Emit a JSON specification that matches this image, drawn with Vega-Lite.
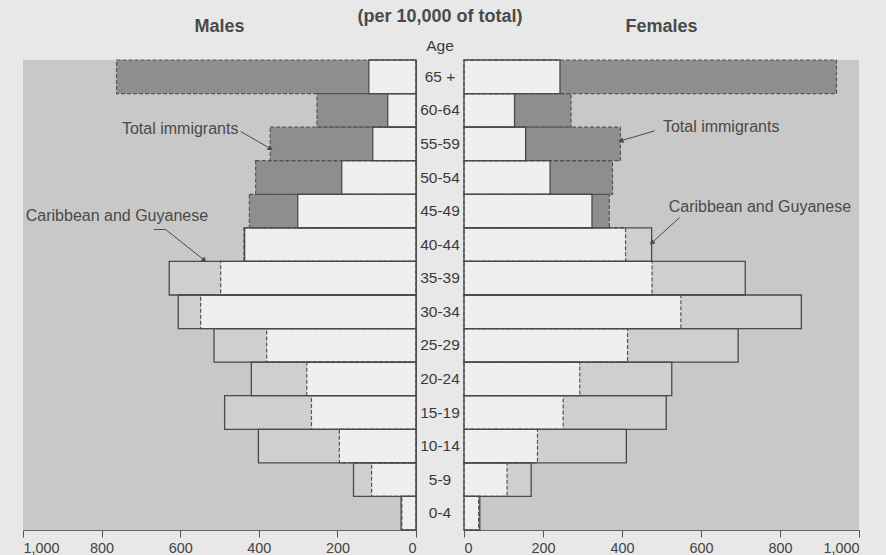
{
  "$schema": "https://vega.github.io/schema/vega-lite/v6.json",
  "background": "#e8e8e8",
  "padding": {"left": 22, "top": 7, "right": 28, "bottom": 25},
  "bounds": "flush",
  "spacing": 0,
  "config": {
    "font": "Liberation Sans",
    "view": {"stroke": null},
    "axis": {"labelFont": "Liberation Sans", "labelFontSize": 14.4, "labelColor": "#444444", "domainColor": "#555555", "tickColor": "#555555", "grid": false, "title": null}
  },
  "datasets": {
    "pyramid": [
      {"sex": "Males", "age": "65 +", "group": "Total immigrants", "value": 762},
      {"sex": "Males", "age": "60-64", "group": "Total immigrants", "value": 252},
      {"sex": "Males", "age": "55-59", "group": "Total immigrants", "value": 371},
      {"sex": "Males", "age": "50-54", "group": "Total immigrants", "value": 408},
      {"sex": "Males", "age": "45-49", "group": "Total immigrants", "value": 424},
      {"sex": "Males", "age": "40-44", "group": "Total immigrants", "value": 438},
      {"sex": "Males", "age": "35-39", "group": "Total immigrants", "value": 497},
      {"sex": "Males", "age": "30-34", "group": "Total immigrants", "value": 548},
      {"sex": "Males", "age": "25-29", "group": "Total immigrants", "value": 380},
      {"sex": "Males", "age": "20-24", "group": "Total immigrants", "value": 278},
      {"sex": "Males", "age": "15-19", "group": "Total immigrants", "value": 266},
      {"sex": "Males", "age": "10-14", "group": "Total immigrants", "value": 195},
      {"sex": "Males", "age": "5-9", "group": "Total immigrants", "value": 113},
      {"sex": "Males", "age": "0-4", "group": "Total immigrants", "value": 36},
      {"sex": "Males", "age": "65 +", "group": "Caribbean and Guyanese", "value": 120},
      {"sex": "Males", "age": "60-64", "group": "Caribbean and Guyanese", "value": 72},
      {"sex": "Males", "age": "55-59", "group": "Caribbean and Guyanese", "value": 110},
      {"sex": "Males", "age": "50-54", "group": "Caribbean and Guyanese", "value": 189},
      {"sex": "Males", "age": "45-49", "group": "Caribbean and Guyanese", "value": 301},
      {"sex": "Males", "age": "40-44", "group": "Caribbean and Guyanese", "value": 436},
      {"sex": "Males", "age": "35-39", "group": "Caribbean and Guyanese", "value": 628},
      {"sex": "Males", "age": "30-34", "group": "Caribbean and Guyanese", "value": 605},
      {"sex": "Males", "age": "25-29", "group": "Caribbean and Guyanese", "value": 514},
      {"sex": "Males", "age": "20-24", "group": "Caribbean and Guyanese", "value": 419},
      {"sex": "Males", "age": "15-19", "group": "Caribbean and Guyanese", "value": 487},
      {"sex": "Males", "age": "10-14", "group": "Caribbean and Guyanese", "value": 401},
      {"sex": "Males", "age": "5-9", "group": "Caribbean and Guyanese", "value": 159},
      {"sex": "Males", "age": "0-4", "group": "Caribbean and Guyanese", "value": 38},
      {"sex": "Females", "age": "65 +", "group": "Total immigrants", "value": 943},
      {"sex": "Females", "age": "60-64", "group": "Total immigrants", "value": 271},
      {"sex": "Females", "age": "55-59", "group": "Total immigrants", "value": 396},
      {"sex": "Females", "age": "50-54", "group": "Total immigrants", "value": 376},
      {"sex": "Females", "age": "45-49", "group": "Total immigrants", "value": 368},
      {"sex": "Females", "age": "40-44", "group": "Total immigrants", "value": 409},
      {"sex": "Females", "age": "35-39", "group": "Total immigrants", "value": 476},
      {"sex": "Females", "age": "30-34", "group": "Total immigrants", "value": 549},
      {"sex": "Females", "age": "25-29", "group": "Total immigrants", "value": 414},
      {"sex": "Females", "age": "20-24", "group": "Total immigrants", "value": 293},
      {"sex": "Females", "age": "15-19", "group": "Total immigrants", "value": 251},
      {"sex": "Females", "age": "10-14", "group": "Total immigrants", "value": 186},
      {"sex": "Females", "age": "5-9", "group": "Total immigrants", "value": 109},
      {"sex": "Females", "age": "0-4", "group": "Total immigrants", "value": 37},
      {"sex": "Females", "age": "65 +", "group": "Caribbean and Guyanese", "value": 243},
      {"sex": "Females", "age": "60-64", "group": "Caribbean and Guyanese", "value": 128},
      {"sex": "Females", "age": "55-59", "group": "Caribbean and Guyanese", "value": 156},
      {"sex": "Females", "age": "50-54", "group": "Caribbean and Guyanese", "value": 218},
      {"sex": "Females", "age": "45-49", "group": "Caribbean and Guyanese", "value": 324},
      {"sex": "Females", "age": "40-44", "group": "Caribbean and Guyanese", "value": 475},
      {"sex": "Females", "age": "35-39", "group": "Caribbean and Guyanese", "value": 712},
      {"sex": "Females", "age": "30-34", "group": "Caribbean and Guyanese", "value": 854},
      {"sex": "Females", "age": "25-29", "group": "Caribbean and Guyanese", "value": 694},
      {"sex": "Females", "age": "20-24", "group": "Caribbean and Guyanese", "value": 526},
      {"sex": "Females", "age": "15-19", "group": "Caribbean and Guyanese", "value": 512},
      {"sex": "Females", "age": "10-14", "group": "Caribbean and Guyanese", "value": 411},
      {"sex": "Females", "age": "5-9", "group": "Caribbean and Guyanese", "value": 170},
      {"sex": "Females", "age": "0-4", "group": "Caribbean and Guyanese", "value": 40}
    ],
    "notes": [
      {"sex": "Males", "label": "Total immigrants", "value": 600, "pos": 11.95},
      {"sex": "Males", "label": "Caribbean and Guyanese", "value": 761, "pos": 9.36},
      {"sex": "Females", "label": "Total immigrants", "value": 651, "pos": 11.99},
      {"sex": "Females", "label": "Caribbean and Guyanese", "value": 749, "pos": 9.61}
    ],
    "arrows": [
      {"sex": "Males", "arrow": "total", "seq": 0, "value": 446, "pos": 11.87},
      {"sex": "Males", "arrow": "total", "seq": 1, "value": 372, "pos": 11.37},
      {"sex": "Males", "arrow": "carib", "seq": 0, "value": 667, "pos": 8.95},
      {"sex": "Males", "arrow": "carib", "seq": 1, "value": 637, "pos": 8.95},
      {"sex": "Males", "arrow": "carib", "seq": 2, "value": 540, "pos": 8.05},
      {"sex": "Females", "arrow": "total", "seq": 0, "value": 483, "pos": 11.89},
      {"sex": "Females", "arrow": "total", "seq": 1, "value": 399, "pos": 11.6},
      {"sex": "Females", "arrow": "carib", "seq": 0, "value": 546, "pos": 9.31},
      {"sex": "Females", "arrow": "carib", "seq": 1, "value": 477, "pos": 8.57}
    ]
  },
  "hconcat": [
    {
      "width": 393,
      "height": 470,
      "view": {"fill": "#c8c8c8", "stroke": null},
      "title": {"text": "Males", "fontSize": 18, "fontWeight": "bold", "color": "#4a4a4a", "anchor": "middle", "offset": 23},
      "resolve": {"scale": {"y": "independent"}},
      "layer": [
        {
          "data": {"name": "pyramid"},
          "transform": [{"filter": "datum.sex == 'Males'"}],
          "layer": [
            {
              "transform": [{"filter": "datum.group == 'Total immigrants'"}],
              "mark": {"type": "bar", "fill": "#8e8e8e", "strokeWidth": 0},
              "encoding": {
                "x": {"field": "value", "type": "quantitative", "scale": {"domain": [0, 1000], "reverse": true, "nice": false}, "axis": {"values": [0, 200, 400, 600, 800, 1000], "format": ",d", "tickSize": 7, "labelPadding": 4, "domainColor": "#666666"}},
                "y": {"field": "age", "type": "nominal", "sort": ["65 +", "60-64", "55-59", "50-54", "45-49", "40-44", "35-39", "30-34", "25-29", "20-24", "15-19", "10-14", "5-9", "0-4"], "scale": {"paddingInner": 0, "paddingOuter": 0}, "axis": {"orient": "right", "labels": false, "ticks": false, "domainColor": "#555555"}}
              }
            },
            {
              "transform": [{"filter": "datum.group == 'Caribbean and Guyanese'"}],
              "mark": {"type": "bar", "fill": "#cfcfcf", "strokeWidth": 0},
              "encoding": {
                "x": {"field": "value", "type": "quantitative", "scale": {"domain": [0, 1000], "reverse": true, "nice": false}},
                "y": {"field": "age", "type": "nominal", "sort": ["65 +", "60-64", "55-59", "50-54", "45-49", "40-44", "35-39", "30-34", "25-29", "20-24", "15-19", "10-14", "5-9", "0-4"]}
              }
            },
            {
              "mark": {"type": "bar", "fill": "#efefef", "strokeWidth": 0},
              "encoding": {
                "x": {"aggregate": "min", "field": "value", "type": "quantitative", "scale": {"domain": [0, 1000], "reverse": true, "nice": false}},
                "y": {"field": "age", "type": "nominal", "sort": ["65 +", "60-64", "55-59", "50-54", "45-49", "40-44", "35-39", "30-34", "25-29", "20-24", "15-19", "10-14", "5-9", "0-4"]}
              }
            },
            {
              "transform": [{"filter": "datum.group == 'Total immigrants'"}],
              "mark": {"type": "bar", "fillOpacity": 0, "stroke": "#555555", "strokeWidth": 1.2, "strokeDash": [4, 2]},
              "encoding": {
                "x": {"field": "value", "type": "quantitative", "scale": {"domain": [0, 1000], "reverse": true, "nice": false}},
                "y": {"field": "age", "type": "nominal", "sort": ["65 +", "60-64", "55-59", "50-54", "45-49", "40-44", "35-39", "30-34", "25-29", "20-24", "15-19", "10-14", "5-9", "0-4"]}
              }
            },
            {
              "transform": [{"filter": "datum.group == 'Caribbean and Guyanese'"}],
              "mark": {"type": "bar", "fillOpacity": 0, "stroke": "#4a4a4a", "strokeWidth": 1.3},
              "encoding": {
                "x": {"field": "value", "type": "quantitative", "scale": {"domain": [0, 1000], "reverse": true, "nice": false}},
                "y": {"field": "age", "type": "nominal", "sort": ["65 +", "60-64", "55-59", "50-54", "45-49", "40-44", "35-39", "30-34", "25-29", "20-24", "15-19", "10-14", "5-9", "0-4"]}
              }
            }
          ]
        },
        {
          "layer": [
            {
              "data": {"name": "notes"},
              "transform": [{"filter": "datum.sex == 'Males'"}],
              "mark": {"type": "text", "fontSize": 16, "color": "#4a4a4a", "align": "center", "baseline": "middle"},
              "encoding": {
                "x": {"field": "value", "type": "quantitative", "scale": {"domain": [0, 1000], "reverse": true, "nice": false}},
                "y": {"field": "pos", "type": "quantitative", "scale": {"domain": [0, 14], "nice": false, "zero": false}, "axis": null},
                "text": {"field": "label"}
              }
            },
            {
              "data": {"name": "arrows"},
              "transform": [{"filter": "datum.sex == 'Males'"}],
              "mark": {"type": "line", "stroke": "#4a4a4a", "strokeWidth": 1},
              "encoding": {
                "x": {"field": "value", "type": "quantitative", "scale": {"domain": [0, 1000], "reverse": true, "nice": false}},
                "y": {"field": "pos", "type": "quantitative", "scale": {"domain": [0, 14], "nice": false, "zero": false}, "axis": null},
                "detail": {"field": "arrow"},
                "order": {"field": "seq"}
              }
            },
            {
              "data": {"name": "arrows"},
              "transform": [{"filter": "datum.sex == 'Males' && datum.arrow == 'total' && datum.seq == 1"}],
              "mark": {"type": "point", "shape": "triangle", "filled": true, "color": "#4a4a4a", "size": 35, "angle": 120, "opacity": 1},
              "encoding": {
                "x": {"field": "value", "type": "quantitative", "scale": {"domain": [0, 1000], "reverse": true, "nice": false}},
                "y": {"field": "pos", "type": "quantitative", "scale": {"domain": [0, 14], "nice": false, "zero": false}, "axis": null}
              }
            },
            {
              "data": {"name": "arrows"},
              "transform": [{"filter": "datum.sex == 'Males' && datum.arrow == 'carib' && datum.seq == 2"}],
              "mark": {"type": "point", "shape": "triangle", "filled": true, "color": "#4a4a4a", "size": 35, "angle": 129, "opacity": 1},
              "encoding": {
                "x": {"field": "value", "type": "quantitative", "scale": {"domain": [0, 1000], "reverse": true, "nice": false}},
                "y": {"field": "pos", "type": "quantitative", "scale": {"domain": [0, 14], "nice": false, "zero": false}, "axis": null}
              }
            }
          ]
        }
      ]
    },
    {
      "width": 48,
      "height": 470,
      "view": {"stroke": null},
      "title": {"text": "(per 10,000 of total)", "subtitle": "Age", "fontSize": 18, "fontWeight": "bold", "color": "#4a4a4a", "subtitleFontSize": 15.5, "subtitleColor": "#3a3a3a", "subtitleFont": "Liberation Sans", "anchor": "middle", "offset": 6, "subtitlePadding": 13},
      "data": {"name": "pyramid"},
      "transform": [{"filter": "datum.sex == 'Males' && datum.group == 'Total immigrants'"}],
      "mark": {"type": "text", "fontSize": 15.5, "color": "#3a3a3a", "align": "center", "baseline": "middle"},
      "encoding": {
        "y": {"field": "age", "type": "nominal", "sort": ["65 +", "60-64", "55-59", "50-54", "45-49", "40-44", "35-39", "30-34", "25-29", "20-24", "15-19", "10-14", "5-9", "0-4"], "scale": {"paddingInner": 0, "paddingOuter": 0}, "axis": null},
        "text": {"field": "age"}
      }
    },
    {
      "width": 395,
      "height": 470,
      "view": {"fill": "#c8c8c8", "stroke": null},
      "title": {"text": "Females", "fontSize": 18, "fontWeight": "bold", "color": "#4a4a4a", "anchor": "middle", "offset": 23},
      "resolve": {"scale": {"y": "independent"}},
      "layer": [
        {
          "data": {"name": "pyramid"},
          "transform": [{"filter": "datum.sex == 'Females'"}],
          "layer": [
            {
              "transform": [{"filter": "datum.group == 'Total immigrants'"}],
              "mark": {"type": "bar", "fill": "#8e8e8e", "strokeWidth": 0},
              "encoding": {
                "x": {"field": "value", "type": "quantitative", "scale": {"domain": [0, 1000], "nice": false}, "axis": {"values": [0, 200, 400, 600, 800, 1000], "format": ",d", "tickSize": 7, "labelPadding": 4, "domainColor": "#666666"}},
                "y": {"field": "age", "type": "nominal", "sort": ["65 +", "60-64", "55-59", "50-54", "45-49", "40-44", "35-39", "30-34", "25-29", "20-24", "15-19", "10-14", "5-9", "0-4"], "scale": {"paddingInner": 0, "paddingOuter": 0}, "axis": {"orient": "left", "labels": false, "ticks": false, "domainColor": "#555555"}}
              }
            },
            {
              "transform": [{"filter": "datum.group == 'Caribbean and Guyanese'"}],
              "mark": {"type": "bar", "fill": "#cfcfcf", "strokeWidth": 0},
              "encoding": {
                "x": {"field": "value", "type": "quantitative", "scale": {"domain": [0, 1000], "nice": false}},
                "y": {"field": "age", "type": "nominal", "sort": ["65 +", "60-64", "55-59", "50-54", "45-49", "40-44", "35-39", "30-34", "25-29", "20-24", "15-19", "10-14", "5-9", "0-4"]}
              }
            },
            {
              "mark": {"type": "bar", "fill": "#efefef", "strokeWidth": 0},
              "encoding": {
                "x": {"aggregate": "min", "field": "value", "type": "quantitative", "scale": {"domain": [0, 1000], "nice": false}},
                "y": {"field": "age", "type": "nominal", "sort": ["65 +", "60-64", "55-59", "50-54", "45-49", "40-44", "35-39", "30-34", "25-29", "20-24", "15-19", "10-14", "5-9", "0-4"]}
              }
            },
            {
              "transform": [{"filter": "datum.group == 'Total immigrants'"}],
              "mark": {"type": "bar", "fillOpacity": 0, "stroke": "#555555", "strokeWidth": 1.2, "strokeDash": [4, 2]},
              "encoding": {
                "x": {"field": "value", "type": "quantitative", "scale": {"domain": [0, 1000], "nice": false}},
                "y": {"field": "age", "type": "nominal", "sort": ["65 +", "60-64", "55-59", "50-54", "45-49", "40-44", "35-39", "30-34", "25-29", "20-24", "15-19", "10-14", "5-9", "0-4"]}
              }
            },
            {
              "transform": [{"filter": "datum.group == 'Caribbean and Guyanese'"}],
              "mark": {"type": "bar", "fillOpacity": 0, "stroke": "#4a4a4a", "strokeWidth": 1.3},
              "encoding": {
                "x": {"field": "value", "type": "quantitative", "scale": {"domain": [0, 1000], "nice": false}},
                "y": {"field": "age", "type": "nominal", "sort": ["65 +", "60-64", "55-59", "50-54", "45-49", "40-44", "35-39", "30-34", "25-29", "20-24", "15-19", "10-14", "5-9", "0-4"]}
              }
            }
          ]
        },
        {
          "layer": [
            {
              "data": {"name": "notes"},
              "transform": [{"filter": "datum.sex == 'Females'"}],
              "mark": {"type": "text", "fontSize": 16, "color": "#4a4a4a", "align": "center", "baseline": "middle"},
              "encoding": {
                "x": {"field": "value", "type": "quantitative", "scale": {"domain": [0, 1000], "nice": false}},
                "y": {"field": "pos", "type": "quantitative", "scale": {"domain": [0, 14], "nice": false, "zero": false}, "axis": null},
                "text": {"field": "label"}
              }
            },
            {
              "data": {"name": "arrows"},
              "transform": [{"filter": "datum.sex == 'Females'"}],
              "mark": {"type": "line", "stroke": "#4a4a4a", "strokeWidth": 1},
              "encoding": {
                "x": {"field": "value", "type": "quantitative", "scale": {"domain": [0, 1000], "nice": false}},
                "y": {"field": "pos", "type": "quantitative", "scale": {"domain": [0, 14], "nice": false, "zero": false}, "axis": null},
                "detail": {"field": "arrow"},
                "order": {"field": "seq"}
              }
            },
            {
              "data": {"name": "arrows"},
              "transform": [{"filter": "datum.sex == 'Females' && datum.arrow == 'total' && datum.seq == 1"}],
              "mark": {"type": "point", "shape": "triangle", "filled": true, "color": "#4a4a4a", "size": 35, "angle": 253, "opacity": 1},
              "encoding": {
                "x": {"field": "value", "type": "quantitative", "scale": {"domain": [0, 1000], "nice": false}},
                "y": {"field": "pos", "type": "quantitative", "scale": {"domain": [0, 14], "nice": false, "zero": false}, "axis": null}
              }
            },
            {
              "data": {"name": "arrows"},
              "transform": [{"filter": "datum.sex == 'Females' && datum.arrow == 'carib' && datum.seq == 1"}],
              "mark": {"type": "point", "shape": "triangle", "filled": true, "color": "#4a4a4a", "size": 35, "angle": 228, "opacity": 1},
              "encoding": {
                "x": {"field": "value", "type": "quantitative", "scale": {"domain": [0, 1000], "nice": false}},
                "y": {"field": "pos", "type": "quantitative", "scale": {"domain": [0, 14], "nice": false, "zero": false}, "axis": null}
              }
            }
          ]
        }
      ]
    }
  ]
}
